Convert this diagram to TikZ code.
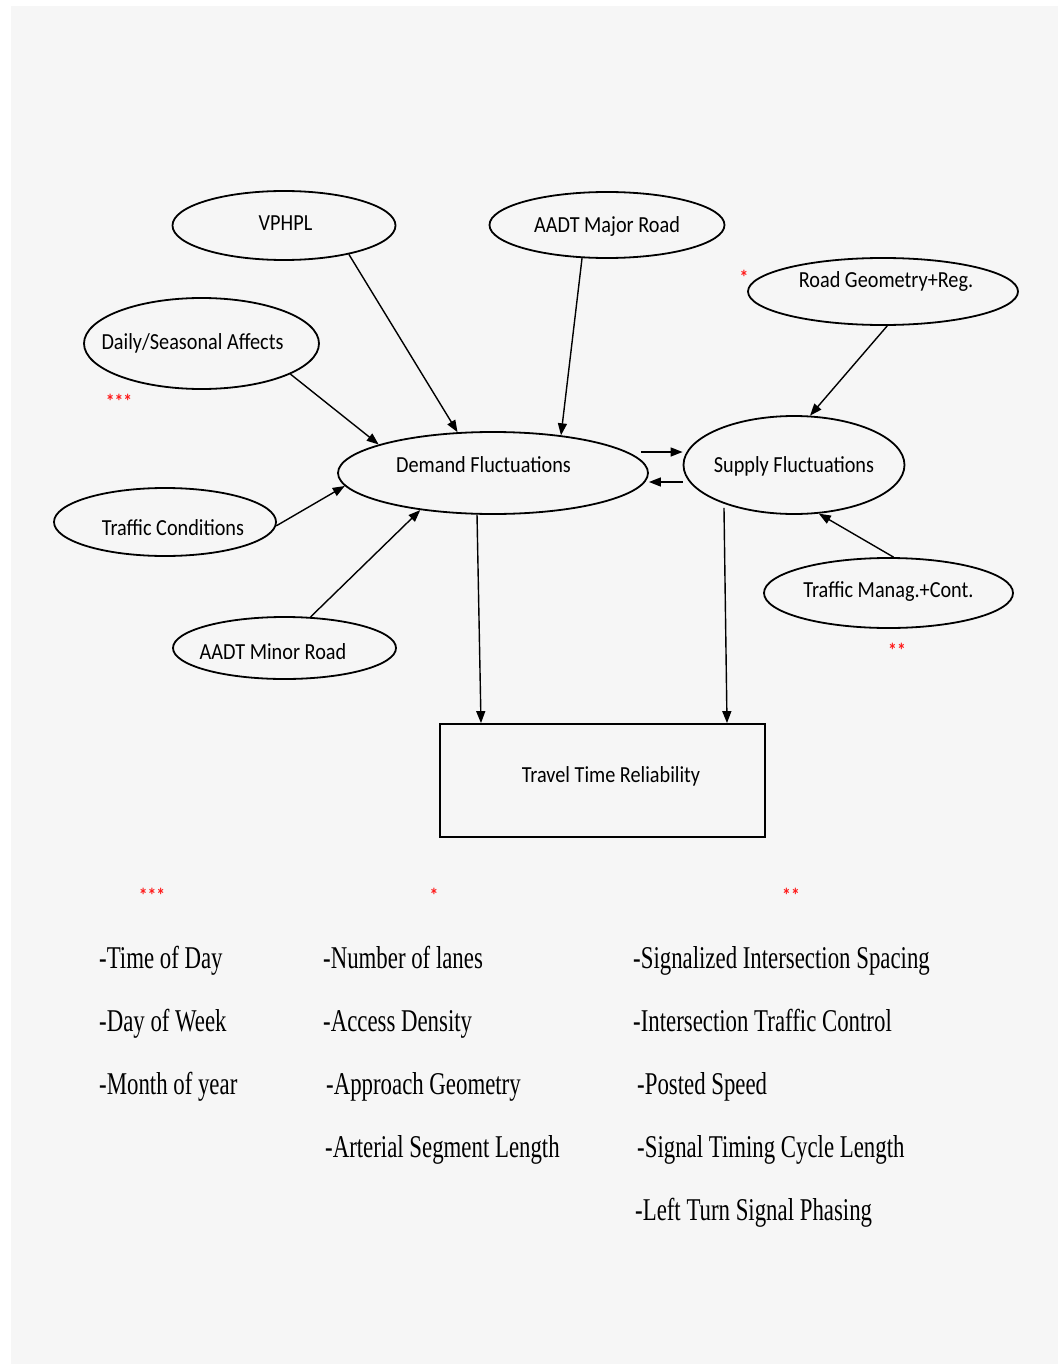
\documentclass[tikz,border=0pt]{standalone}
\usepackage{fontspec}
\usetikzlibrary{shapes.geometric,arrows.meta}
\newfontfamily\calib[FakeStretch=0.88]{Carlito}
\newfontfamily\timesf[FakeStretch=0.72]{Liberation Serif}
\definecolor{bggray}{HTML}{F6F6F6}
\definecolor{starred}{HTML}{FF1A1A}
\newcommand{\offtext}[3]{\makebox[0pt]{\hspace*{#1}\raisebox{#2}{#3}}}
\begin{document}
\begin{tikzpicture}[x=1pt,y=-1pt,
  ell/.style={ellipse, draw, line width=1.8pt, inner sep=0pt,
    text height=14.8pt, text depth=0pt, font=\calib\fontsize{23}{27}\selectfont},
  boxnode/.style={rectangle, draw, line width=1.8pt, inner sep=0pt,
    text height=14.8pt, text depth=0pt, font=\calib\fontsize{23}{27}\selectfont},
  arr/.style={-{Triangle[length=12pt,width=9pt]}, line width=1.4pt},
  lst/.style={anchor=base west, inner sep=0pt, font=\timesf\fontsize{31.7}{36}\selectfont},
  stars/.style={anchor=base, inner sep=0pt, text=starred, font=\calib\bfseries\fontsize{20}{22}\selectfont}]
\useasboundingbox (0,0) rectangle (1058,1364);
\fill[white] (0,0) rectangle (1058,1364);
\fill[bggray] (11,6) rectangle (1058,1364);

% ellipses
\node[ell, minimum width=223pt, minimum height=69pt] (vphpl) at (284,225.5) {\offtext{3pt}{2pt}{VPHPL}};
\node[ell, minimum width=235pt, minimum height=66pt] (amaj) at (607,225) {\offtext{0pt}{0pt}{AADT Major Road}};
\node[ell, minimum width=270pt, minimum height=67pt] (rgeo) at (883,291.5) {\offtext{6pt}{11.5pt}{Road Geometry+Reg.}};
\node[ell, minimum width=235pt, minimum height=91pt] (daily) at (201.5,343.5) {\offtext{-18pt}{1.5pt}{Daily/Seasonal Affects}};
\node[ell, minimum width=310pt, minimum height=82pt] (demand) at (493,473) {\offtext{-19pt}{8pt}{Demand Fluctuations}};
\node[ell, minimum width=221pt, minimum height=98pt] (supply) at (794,465) {\offtext{0pt}{0pt}{Supply Fluctuations}};
\node[ell, minimum width=222pt, minimum height=68pt] (tcond) at (165,522) {\offtext{16pt}{-6pt}{Traffic Conditions}};
\node[ell, minimum width=223pt, minimum height=62pt] (amin) at (284.5,648) {\offtext{-23pt}{-4pt}{AADT Minor Road}};
\node[ell, minimum width=249pt, minimum height=70pt] (tman) at (888.5,593) {\offtext{0pt}{3pt}{Traffic Manag.+Cont.}};
\node[boxnode, minimum width=325pt, minimum height=113pt] (ttr) at (602.5,780.5) {\offtext{17pt}{5.5pt}{Travel Time Reliability}};

% connectors
\draw[arr] (vphpl.-24.3) -- (demand.131.3);
\draw[arr] (amaj.-127.2) -- (demand.29.3);
\draw[arr] (daily.-19.6) -- (demand.166.1);
\draw[arr] (tcond.-2.4) -- (demand.185.1);
\draw[arr] (amin.50.9) -- (demand.207.1);
\draw[arr] ([xshift=-8pt,yshift=21pt]demand.east) -- ([yshift=13pt]supply.west);
\draw[arr] ([yshift=-17pt]supply.west) -- ([yshift=-9pt]demand.east);
\draw[arr] (rgeo.-83.2) -- (supply.72.7);
\draw[arr] (tman.82.7) -- (supply.-63.1);
\draw[arr] (demand.-111.4) -- ([xshift=-121.5pt]ttr.north);
\draw[arr] ([yshift=-4pt]supply.-151.2) -- ([xshift=124.5pt]ttr.north);

% red markers
\node[stars] (st1) at (119,408) {***};
\node[stars] (st2) at (744,284) {*};
\node[stars] (st3) at (897,657) {**};
\node[stars] (st4) at (152,902) {***};
\node[stars] (st5) at (434,902) {*};
\node[stars] (st6) at (791,902) {**};

% lists
\node[lst] (a1) at (99,968) {-Time of Day};
\node[lst] (a2) at (99,1031) {-Day of Week};
\node[lst] (a3) at (99,1094) {-Month of year};
\node[lst] (b1) at (323,968) {-Number of lanes};
\node[lst] (b2) at (323,1031) {-Access Density};
\node[lst] (b3) at (326,1094) {-Approach Geometry};
\node[lst] (b4) at (325,1157) {-Arterial Segment Length};
\node[lst] (c1) at (633,968) {-Signalized Intersection Spacing};
\node[lst] (c2) at (633,1031) {-Intersection Traffic Control};
\node[lst] (c3) at (637,1094) {-Posted Speed};
\node[lst] (c4) at (637,1157) {-Signal Timing Cycle Length};
\node[lst] (c5) at (635,1220) {-Left Turn Signal Phasing};
\end{tikzpicture}
\end{document}
